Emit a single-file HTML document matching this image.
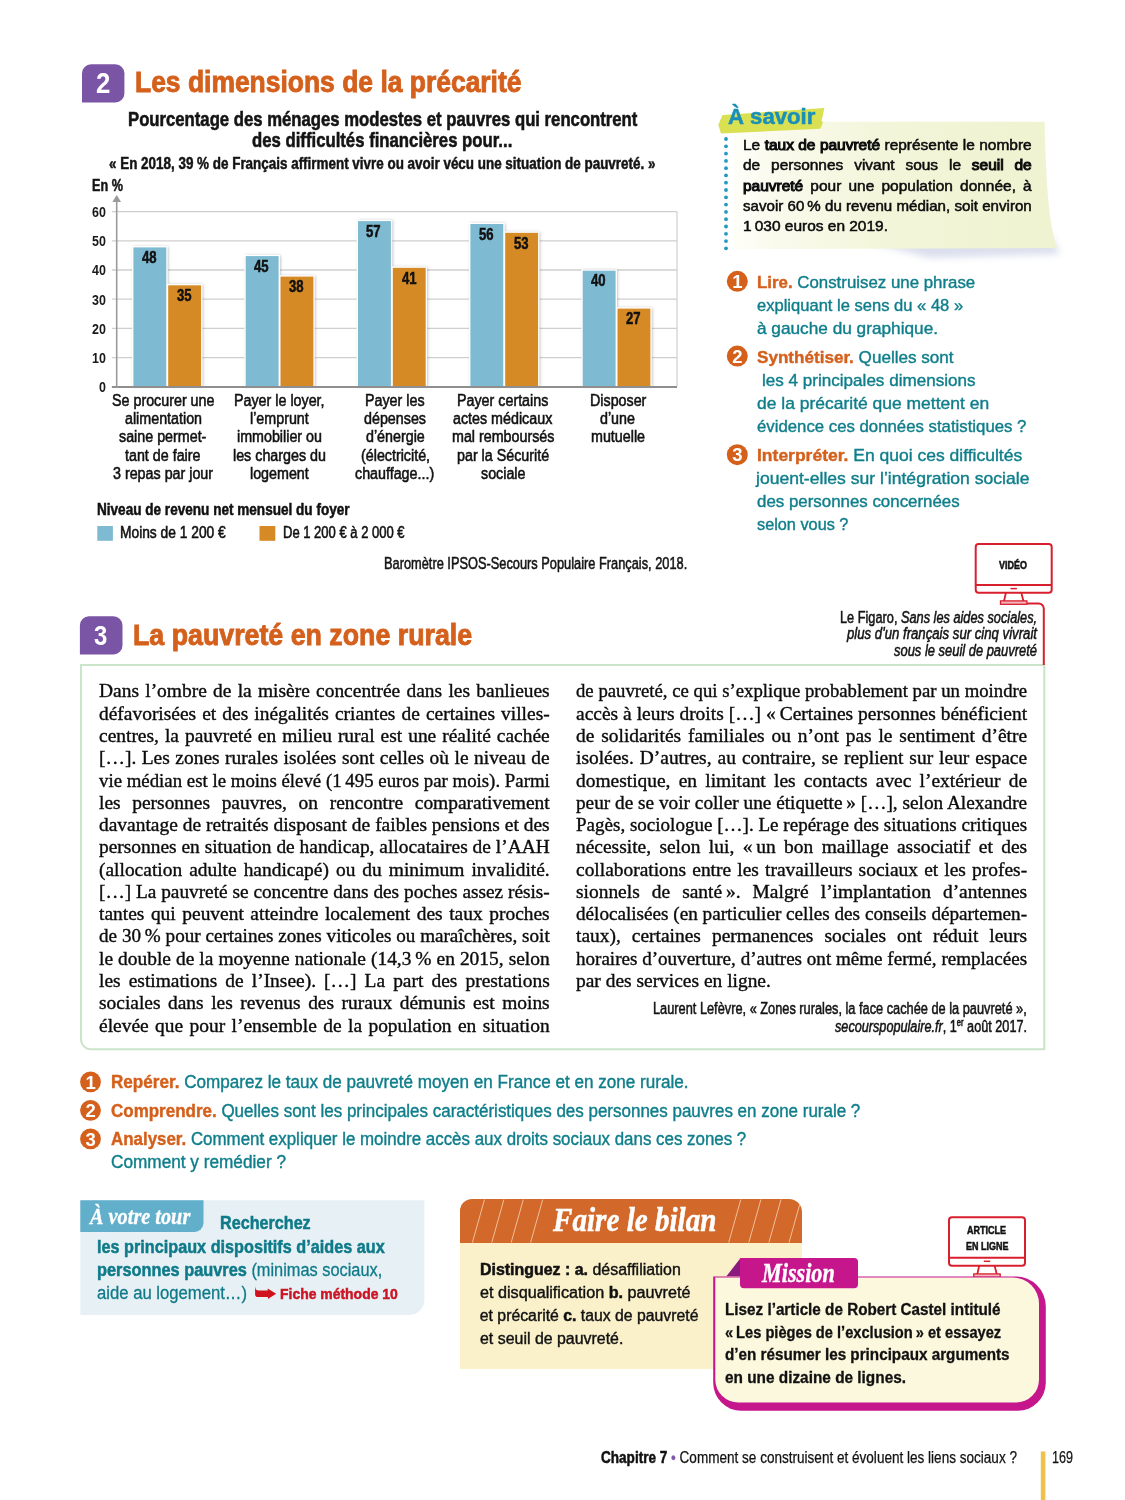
<!DOCTYPE html>
<html lang="fr"><head><meta charset="utf-8"><title>Les dimensions de la précarité</title>
<style>
html,body{margin:0;padding:0}body{width:1125px;height:1500px;position:relative;overflow:hidden;background:#fff}
.t{position:absolute;white-space:nowrap;line-height:1;transform-origin:0 0}
.j{white-space:normal;text-align:justify;text-align-last:justify}
b{font-weight:700}
b.k{-webkit-text-stroke:0.5px}
b.d{font-weight:400;-webkit-text-stroke:1px #0c0c0c}
svg.bg{position:absolute;left:0;top:0}
</style></head>
<body>
<svg class="bg" width="1125" height="1500" viewBox="0 0 1125 1500">
<defs>
<filter id="bs" x="-20%" y="-20%" width="150%" height="140%"><feGaussianBlur stdDeviation="1.6"/></filter>
<filter id="ns" x="-10%" y="-50%" width="120%" height="250%"><feGaussianBlur stdDeviation="3.5"/></filter>
<linearGradient id="ng" x1="0" y1="0" x2="1" y2="0"><stop offset="0" stop-color="#fefef9"/><stop offset="0.15" stop-color="#f9faeb"/><stop offset="0.5" stop-color="#f2f5d8"/><stop offset="1" stop-color="#eff3d0"/></linearGradient>
<clipPath id="hc"><path d="M460 1243V1211a12 12 0 0 1 12-12H790a12 12 0 0 1 12 12V1243Z"/></clipPath>
</defs>
<path d="M82 102.4V73.3a9 9 0 0 1 9 -9H115.4a9 9 0 0 1 9 9V93.4a9 9 0 0 1 -9 9Z" fill="#7b55a5"/>
<path d="M79.9 654.4V625.3a9 9 0 0 1 9 -9H113.5a9 9 0 0 1 9 9V645.4a9 9 0 0 1 -9 9Z" fill="#7b55a5"/>
<rect x="116.7" y="211.7" width="560.3" height="175.0" fill="#fff"/>
<line x1="111.9" y1="211.7" x2="677" y2="211.7" stroke="#cfcfcf" stroke-width="1.3"/>
<line x1="111.9" y1="240.9" x2="677" y2="240.9" stroke="#cfcfcf" stroke-width="1.3"/>
<line x1="111.9" y1="270.0" x2="677" y2="270.0" stroke="#cfcfcf" stroke-width="1.3"/>
<line x1="111.9" y1="299.2" x2="677" y2="299.2" stroke="#cfcfcf" stroke-width="1.3"/>
<line x1="111.9" y1="328.4" x2="677" y2="328.4" stroke="#cfcfcf" stroke-width="1.3"/>
<line x1="111.9" y1="357.6" x2="677" y2="357.6" stroke="#cfcfcf" stroke-width="1.3"/>
<line x1="111.9" y1="386.7" x2="677" y2="386.7" stroke="#cfcfcf" stroke-width="1.3"/>
<line x1="677" y1="211.7" x2="677" y2="386.7" stroke="#d3d3d3" stroke-width="1.3"/>
<rect x="133.5" y="246.7" width="34.6" height="140.0" fill="#666" opacity=".5" filter="url(#bs)"/>
<rect x="168.3" y="284.6" width="34.6" height="102.1" fill="#666" opacity=".5" filter="url(#bs)"/>
<rect x="132.7" y="246.7" width="34.3" height="141.0" fill="#7ebad2" stroke="#fff" stroke-width="1.4"/>
<rect x="167.5" y="284.6" width="34.3" height="103.1" fill="#d68a26" stroke="#fff" stroke-width="1.4"/>
<rect x="245.8" y="255.4" width="34.6" height="131.3" fill="#666" opacity=".5" filter="url(#bs)"/>
<rect x="280.6" y="275.9" width="34.6" height="110.8" fill="#666" opacity=".5" filter="url(#bs)"/>
<rect x="245.0" y="255.4" width="34.3" height="132.3" fill="#7ebad2" stroke="#fff" stroke-width="1.4"/>
<rect x="279.8" y="275.9" width="34.3" height="111.8" fill="#d68a26" stroke="#fff" stroke-width="1.4"/>
<rect x="358.1" y="220.4" width="34.6" height="166.3" fill="#666" opacity=".5" filter="url(#bs)"/>
<rect x="392.9" y="267.1" width="34.6" height="119.6" fill="#666" opacity=".5" filter="url(#bs)"/>
<rect x="357.3" y="220.4" width="34.3" height="167.3" fill="#7ebad2" stroke="#fff" stroke-width="1.4"/>
<rect x="392.1" y="267.1" width="34.3" height="120.6" fill="#d68a26" stroke="#fff" stroke-width="1.4"/>
<rect x="470.5" y="223.3" width="34.6" height="163.4" fill="#666" opacity=".5" filter="url(#bs)"/>
<rect x="505.3" y="232.1" width="34.6" height="154.6" fill="#666" opacity=".5" filter="url(#bs)"/>
<rect x="469.7" y="223.3" width="34.3" height="164.4" fill="#7ebad2" stroke="#fff" stroke-width="1.4"/>
<rect x="504.5" y="232.1" width="34.3" height="155.6" fill="#d68a26" stroke="#fff" stroke-width="1.4"/>
<rect x="582.8" y="270.0" width="34.6" height="116.7" fill="#666" opacity=".5" filter="url(#bs)"/>
<rect x="617.6" y="307.9" width="34.6" height="78.8" fill="#666" opacity=".5" filter="url(#bs)"/>
<rect x="582.0" y="270.0" width="34.3" height="117.7" fill="#7ebad2" stroke="#fff" stroke-width="1.4"/>
<rect x="616.8" y="307.9" width="34.3" height="79.8" fill="#d68a26" stroke="#fff" stroke-width="1.4"/>
<line x1="111.9" y1="387.0" x2="677" y2="387.0" stroke="#8f8f8f" stroke-width="2"/>
<line x1="116.7" y1="199" x2="116.7" y2="387.7" stroke="#9a9a9a" stroke-width="1.6"/>
<path d="M112.3 202L116.7 195L121.10000000000001 202Z" fill="#9a9a9a"/>
<rect x="97.3" y="526" width="15.6" height="14.8" fill="#7ebad2"/>
<rect x="259.5" y="526" width="15.8" height="14.8" fill="#d68a26"/>
<path d="M860 240L1050 234L1060 254L930 258Z" fill="#8f9cc8" opacity=".32" filter="url(#ns)"/>
<path d="M733.5 121.8L1044.6 121.8C1045.5 170 1048 222 1057 248L733.5 249.2Z" fill="url(#ng)"/>
<path d="M718.3 124.7L722.5 115L824.4 108L821.6 121L823 122.3L820.4 128.7L721 133.5Z" fill="#d9e052"/>
<circle cx="726" cy="139.0" r="1.9" fill="#2399c0"/>
<circle cx="726" cy="146.3" r="1.9" fill="#2399c0"/>
<circle cx="726" cy="153.6" r="1.9" fill="#2399c0"/>
<circle cx="726" cy="160.9" r="1.9" fill="#2399c0"/>
<circle cx="726" cy="168.2" r="1.9" fill="#2399c0"/>
<circle cx="726" cy="175.4" r="1.9" fill="#2399c0"/>
<circle cx="726" cy="182.7" r="1.9" fill="#2399c0"/>
<circle cx="726" cy="190.0" r="1.9" fill="#2399c0"/>
<circle cx="726" cy="197.3" r="1.9" fill="#2399c0"/>
<circle cx="726" cy="204.6" r="1.9" fill="#2399c0"/>
<circle cx="726" cy="211.9" r="1.9" fill="#2399c0"/>
<circle cx="726" cy="219.2" r="1.9" fill="#2399c0"/>
<circle cx="726" cy="226.5" r="1.9" fill="#2399c0"/>
<circle cx="726" cy="233.8" r="1.9" fill="#2399c0"/>
<circle cx="726" cy="241.1" r="1.9" fill="#2399c0"/>
<circle cx="726" cy="248.3" r="1.9" fill="#2399c0"/>
<circle cx="737.3" cy="281.3" r="10.5" fill="#d4601c"/>
<circle cx="737.3" cy="356.1" r="10.5" fill="#d4601c"/>
<circle cx="737.3" cy="454.7" r="10.5" fill="#d4601c"/>
<circle cx="90.5" cy="1081.9" r="10.4" fill="#d4601c"/>
<circle cx="90.5" cy="1110.3" r="10.4" fill="#d4601c"/>
<circle cx="90.5" cy="1138.9" r="10.4" fill="#d4601c"/>
<path d="M81 665H1044.3V1049.3H91a10 10 0 0 1-10-10Z" fill="#fff" stroke="#cbe5ca" stroke-width="2.1"/>
<rect x="975.7" y="544" width="76.0" height="48.700000000000045" rx="3" fill="#fff" stroke="#d81f2e" stroke-width="2"/>
<line x1="975.7" y1="585" x2="1051.7" y2="585" stroke="#d81f2e" stroke-width="1.9"/>
<line x1="1010.5" y1="588.6" x2="1016.9000000000001" y2="588.6" stroke="#d81f2e" stroke-width="1.5"/>
<path d="M1005.9000000000001 592.7L1004.0 601.2M1021.3000000000001 592.7L1023.5 601.2" stroke="#d81f2e" stroke-width="1.8" fill="none"/>
<rect x="1000.5" y="600.9000000000001" width="26.4" height="3.4" fill="#f3b6bb" stroke="#d81f2e" stroke-width="1.3"/>
<path d="M1027 603.5H1038.6a5.2 5.2 0 0 1 5.2 5.2V665" stroke="#d81f2e" stroke-width="2" fill="none"/>
<path d="M80.3 1200.3H424.4V1300a15 15 0 0 1-15 15H80.3Z" fill="#e7f1f5"/>
<path d="M80.3 1200.3H203.5V1223a9 9 0 0 1-9 9H80.3Z" fill="#61afcb"/>
<path d="M255.1 1286.5C255.6 1289.5 256.5 1290.5 258.5 1290.5H267.7V1288.4L276.2 1293.7L267.9 1299.1V1297.1H258C256 1297.1 255.1 1296 255.1 1294.5Z" fill="#d0121f"/>
<rect x="460" y="1242" width="342" height="127" fill="#faf1ca"/>
<path d="M460 1243V1211a12 12 0 0 1 12-12H789a13 13 0 0 1 13 13V1243Z" fill="#d2692b"/>
<g clip-path="url(#hc)" stroke="#f3c9a6" stroke-width="1" opacity=".9">
<line x1="472.4" y1="1242.5" x2="484.5" y2="1199.5"/>
<line x1="491.8" y1="1242.5" x2="503.90000000000003" y2="1199.5"/>
<line x1="511.2" y1="1242.5" x2="523.3" y2="1199.5"/>
<line x1="530.6" y1="1242.5" x2="542.7" y2="1199.5"/>
<line x1="728.7" y1="1242.5" x2="740.8000000000001" y2="1199.5"/>
<line x1="748.8" y1="1242.5" x2="760.9" y2="1199.5"/>
<line x1="768.9" y1="1242.5" x2="781.0" y2="1199.5"/>
<line x1="789" y1="1242.5" x2="801.1" y2="1199.5"/>
</g>
<rect x="949" y="1217.3" width="76" height="48.40000000000009" rx="3" fill="#fff" stroke="#d81f2e" stroke-width="2"/>
<line x1="949" y1="1257.7" x2="1025" y2="1257.7" stroke="#d81f2e" stroke-width="1.9"/>
<line x1="983.8" y1="1261.3" x2="990.2" y2="1261.3" stroke="#d81f2e" stroke-width="1.5"/>
<path d="M979.2 1265.7L977.3 1274.2M994.6 1265.7L996.8 1274.2" stroke="#d81f2e" stroke-width="1.8" fill="none"/>
<rect x="973.8" y="1273.9" width="26.4" height="3.4" fill="#f3b6bb" stroke="#d81f2e" stroke-width="1.3"/>
<path d="M713.2 1276.4H1015.8a30 30 0 0 1 30 30V1382.8a28 28 0 0 1-28 28H741.2a28 28 0 0 1-28-28Z" fill="#c5168c"/>
<path d="M715.3 1277.6H1013a26 26 0 0 1 26 26V1379.6a23 23 0 0 1-23 23H738.3a23 23 0 0 1-23-23Z" fill="#fcf8de"/>
<path d="M726.4 1276.3L740.2 1258.6V1276.3Z" fill="#8a1a7e"/>
<path d="M740 1258H854a4 4 0 0 1 4 4V1284.2a4 4 0 0 1-4 4H744a4 4 0 0 1-4-4Z" fill="#c5168c"/>
<rect x="1040.8" y="1451.5" width="4.6" height="49" fill="#efc04e"/>
</svg>
<div class="t" style="left:95.7px;top:68.4px;font-family:'Liberation Sans',sans-serif;font-size:30px;color:#fff;font-weight:700;transform:scaleX(0.8600);">2</div>
<div class="t" style="left:134.5px;top:67.2px;font-family:'Liberation Sans',sans-serif;font-size:29.5px;color:#d4601c;font-weight:700;transform:scaleX(0.8963);-webkit-text-stroke:0.9px #d4601c;">Les dimensions de la précarité</div>
<div class="t" style="left:128.3px;top:109.7px;font-family:'Liberation Sans',sans-serif;font-size:19.5px;color:#141414;font-weight:700;transform:scaleX(0.8562);-webkit-text-stroke:0.55px;">Pourcentage des ménages modestes et pauvres qui rencontrent</div>
<div class="t" style="left:252.0px;top:130.7px;font-family:'Liberation Sans',sans-serif;font-size:19.5px;color:#141414;font-weight:700;transform:scaleX(0.8579);-webkit-text-stroke:0.55px;">des difficultés financières pour...</div>
<div class="t" style="left:109.3px;top:156.3px;font-family:'Liberation Sans',sans-serif;font-size:15.8px;color:#141414;font-weight:700;transform:scaleX(0.8502);-webkit-text-stroke:0.5px;">« En 2018, 39 % de Français affirment vivre ou avoir vécu une situation de pauvreté. »</div>
<div class="t" style="left:91.7px;top:178.0px;font-family:'Liberation Sans',sans-serif;font-size:15.8px;color:#141414;font-weight:700;transform:scaleX(0.8000);-webkit-text-stroke:0.5px;">En %</div>
<div class="t" style="left:91.7px;top:204.0px;font-family:'Liberation Sans',sans-serif;font-size:15px;color:#1a1a1a;font-weight:700;transform:scaleX(0.8300);">60</div>
<div class="t" style="left:91.7px;top:233.2px;font-family:'Liberation Sans',sans-serif;font-size:15px;color:#1a1a1a;font-weight:700;transform:scaleX(0.8300);">50</div>
<div class="t" style="left:91.7px;top:262.3px;font-family:'Liberation Sans',sans-serif;font-size:15px;color:#1a1a1a;font-weight:700;transform:scaleX(0.8300);">40</div>
<div class="t" style="left:91.7px;top:291.5px;font-family:'Liberation Sans',sans-serif;font-size:15px;color:#1a1a1a;font-weight:700;transform:scaleX(0.8300);">30</div>
<div class="t" style="left:91.7px;top:320.7px;font-family:'Liberation Sans',sans-serif;font-size:15px;color:#1a1a1a;font-weight:700;transform:scaleX(0.8300);">20</div>
<div class="t" style="left:91.7px;top:349.9px;font-family:'Liberation Sans',sans-serif;font-size:15px;color:#1a1a1a;font-weight:700;transform:scaleX(0.8300);">10</div>
<div class="t" style="left:98.7px;top:379.0px;font-family:'Liberation Sans',sans-serif;font-size:15px;color:#1a1a1a;font-weight:700;transform:scaleX(0.8300);">0</div>
<div class="t" style="left:141.8px;top:250.1px;font-family:'Liberation Sans',sans-serif;font-size:15.6px;color:#111;font-weight:700;transform:scaleX(0.8400);-webkit-text-stroke:0.5px;">48</div>
<div class="t" style="left:177.0px;top:288.0px;font-family:'Liberation Sans',sans-serif;font-size:15.6px;color:#111;font-weight:700;transform:scaleX(0.8400);-webkit-text-stroke:0.5px;">35</div>
<div class="t" style="left:254.1px;top:258.8px;font-family:'Liberation Sans',sans-serif;font-size:15.6px;color:#111;font-weight:700;transform:scaleX(0.8400);-webkit-text-stroke:0.5px;">45</div>
<div class="t" style="left:289.3px;top:279.3px;font-family:'Liberation Sans',sans-serif;font-size:15.6px;color:#111;font-weight:700;transform:scaleX(0.8400);-webkit-text-stroke:0.5px;">38</div>
<div class="t" style="left:366.4px;top:223.8px;font-family:'Liberation Sans',sans-serif;font-size:15.6px;color:#111;font-weight:700;transform:scaleX(0.8400);-webkit-text-stroke:0.5px;">57</div>
<div class="t" style="left:401.6px;top:270.5px;font-family:'Liberation Sans',sans-serif;font-size:15.6px;color:#111;font-weight:700;transform:scaleX(0.8400);-webkit-text-stroke:0.5px;">41</div>
<div class="t" style="left:478.8px;top:226.7px;font-family:'Liberation Sans',sans-serif;font-size:15.6px;color:#111;font-weight:700;transform:scaleX(0.8400);-webkit-text-stroke:0.5px;">56</div>
<div class="t" style="left:514.0px;top:235.5px;font-family:'Liberation Sans',sans-serif;font-size:15.6px;color:#111;font-weight:700;transform:scaleX(0.8400);-webkit-text-stroke:0.5px;">53</div>
<div class="t" style="left:591.1px;top:273.4px;font-family:'Liberation Sans',sans-serif;font-size:15.6px;color:#111;font-weight:700;transform:scaleX(0.8400);-webkit-text-stroke:0.5px;">40</div>
<div class="t" style="left:626.3px;top:311.3px;font-family:'Liberation Sans',sans-serif;font-size:15.6px;color:#111;font-weight:700;transform:scaleX(0.8400);-webkit-text-stroke:0.5px;">27</div>
<div class="t" style="left:111.8px;top:393.3px;font-family:'Liberation Sans',sans-serif;font-size:16px;color:#111;transform:scaleX(0.8930);-webkit-text-stroke:0.55px;">Se procurer une</div>
<div class="t" style="left:124.5px;top:411.4px;font-family:'Liberation Sans',sans-serif;font-size:16px;color:#111;transform:scaleX(0.8930);-webkit-text-stroke:0.55px;">alimentation</div>
<div class="t" style="left:119.3px;top:429.4px;font-family:'Liberation Sans',sans-serif;font-size:16px;color:#111;transform:scaleX(0.8930);-webkit-text-stroke:0.55px;">saine permet-</div>
<div class="t" style="left:125.3px;top:447.5px;font-family:'Liberation Sans',sans-serif;font-size:16px;color:#111;transform:scaleX(0.8930);-webkit-text-stroke:0.55px;">tant de faire</div>
<div class="t" style="left:113.0px;top:465.5px;font-family:'Liberation Sans',sans-serif;font-size:16px;color:#111;transform:scaleX(0.8930);-webkit-text-stroke:0.55px;">3 repas par jour</div>
<div class="t" style="left:234.0px;top:393.3px;font-family:'Liberation Sans',sans-serif;font-size:16px;color:#111;transform:scaleX(0.8930);-webkit-text-stroke:0.55px;">Payer le loyer,</div>
<div class="t" style="left:249.9px;top:411.4px;font-family:'Liberation Sans',sans-serif;font-size:16px;color:#111;transform:scaleX(0.8930);-webkit-text-stroke:0.55px;">l’emprunt</div>
<div class="t" style="left:236.8px;top:429.4px;font-family:'Liberation Sans',sans-serif;font-size:16px;color:#111;transform:scaleX(0.8930);-webkit-text-stroke:0.55px;">immobilier ou</div>
<div class="t" style="left:232.8px;top:447.5px;font-family:'Liberation Sans',sans-serif;font-size:16px;color:#111;transform:scaleX(0.8930);-webkit-text-stroke:0.55px;">les charges du</div>
<div class="t" style="left:249.9px;top:465.5px;font-family:'Liberation Sans',sans-serif;font-size:16px;color:#111;transform:scaleX(0.8930);-webkit-text-stroke:0.55px;">logement</div>
<div class="t" style="left:365.2px;top:393.3px;font-family:'Liberation Sans',sans-serif;font-size:16px;color:#111;transform:scaleX(0.8930);-webkit-text-stroke:0.55px;">Payer les</div>
<div class="t" style="left:364.0px;top:411.4px;font-family:'Liberation Sans',sans-serif;font-size:16px;color:#111;transform:scaleX(0.8930);-webkit-text-stroke:0.55px;">dépenses</div>
<div class="t" style="left:365.6px;top:429.4px;font-family:'Liberation Sans',sans-serif;font-size:16px;color:#111;transform:scaleX(0.8930);-webkit-text-stroke:0.55px;">d’énergie</div>
<div class="t" style="left:360.5px;top:447.5px;font-family:'Liberation Sans',sans-serif;font-size:16px;color:#111;transform:scaleX(0.8930);-webkit-text-stroke:0.55px;">(électricité,</div>
<div class="t" style="left:355.4px;top:465.5px;font-family:'Liberation Sans',sans-serif;font-size:16px;color:#111;transform:scaleX(0.8930);-webkit-text-stroke:0.55px;">chauffage...)</div>
<div class="t" style="left:457.1px;top:393.3px;font-family:'Liberation Sans',sans-serif;font-size:16px;color:#111;transform:scaleX(0.8930);-webkit-text-stroke:0.55px;">Payer certains</div>
<div class="t" style="left:453.2px;top:411.4px;font-family:'Liberation Sans',sans-serif;font-size:16px;color:#111;transform:scaleX(0.8930);-webkit-text-stroke:0.55px;">actes médicaux</div>
<div class="t" style="left:451.6px;top:429.4px;font-family:'Liberation Sans',sans-serif;font-size:16px;color:#111;transform:scaleX(0.8930);-webkit-text-stroke:0.55px;">mal remboursés</div>
<div class="t" style="left:456.7px;top:447.5px;font-family:'Liberation Sans',sans-serif;font-size:16px;color:#111;transform:scaleX(0.8930);-webkit-text-stroke:0.55px;">par la Sécurité</div>
<div class="t" style="left:480.6px;top:465.5px;font-family:'Liberation Sans',sans-serif;font-size:16px;color:#111;transform:scaleX(0.8930);-webkit-text-stroke:0.55px;">sociale</div>
<div class="t" style="left:589.6px;top:393.3px;font-family:'Liberation Sans',sans-serif;font-size:16px;color:#111;transform:scaleX(0.8930);-webkit-text-stroke:0.55px;">Disposer</div>
<div class="t" style="left:600.3px;top:411.4px;font-family:'Liberation Sans',sans-serif;font-size:16px;color:#111;transform:scaleX(0.8930);-webkit-text-stroke:0.55px;">d’une</div>
<div class="t" style="left:590.8px;top:429.4px;font-family:'Liberation Sans',sans-serif;font-size:16px;color:#111;transform:scaleX(0.8930);-webkit-text-stroke:0.55px;">mutuelle</div>
<div class="t" style="left:96.7px;top:501.8px;font-family:'Liberation Sans',sans-serif;font-size:15.8px;color:#111;font-weight:700;transform:scaleX(0.8589);-webkit-text-stroke:0.5px;">Niveau de revenu net mensuel du foyer</div>
<div class="t" style="left:120.3px;top:525.1px;font-family:'Liberation Sans',sans-serif;font-size:15.8px;color:#111;transform:scaleX(0.8721);-webkit-text-stroke:0.55px;">Moins de 1 200 €</div>
<div class="t" style="left:282.7px;top:525.1px;font-family:'Liberation Sans',sans-serif;font-size:15.8px;color:#111;transform:scaleX(0.8241);-webkit-text-stroke:0.55px;">De 1 200 € à 2 000 €</div>
<div class="t" style="left:384.0px;top:556.0px;font-family:'Liberation Sans',sans-serif;font-size:16.6px;color:#141414;transform:scaleX(0.7719);-webkit-text-stroke:0.55px;">Baromètre IPSOS-Secours Populaire Français, 2018.</div>
<div class="t" style="left:727.7px;top:105.5px;font-family:'Liberation Sans',sans-serif;font-size:22px;color:#1a8fb8;font-weight:700;transform:scaleX(1.0054);-webkit-text-stroke:0.5px #1a8fb8;">À savoir</div>
<div class="t j" style="left:743.3px;top:138.0px;width:264.9px;font-family:'Liberation Sans',sans-serif;font-size:14.2px;color:#0c0c0c;transform:scaleX(1.0900);-webkit-text-stroke:0.5px #0c0c0c;">Le <b class="d">taux de pauvreté</b> représente le nombre</div>
<div class="t j" style="left:743.3px;top:158.3px;width:264.9px;font-family:'Liberation Sans',sans-serif;font-size:14.2px;color:#0c0c0c;transform:scaleX(1.0900);-webkit-text-stroke:0.5px #0c0c0c;">de personnes vivant sous le <b class="d">seuil de</b></div>
<div class="t j" style="left:743.3px;top:178.6px;width:264.9px;font-family:'Liberation Sans',sans-serif;font-size:14.2px;color:#0c0c0c;transform:scaleX(1.0900);-webkit-text-stroke:0.5px #0c0c0c;"><b class="d">pauvreté</b> pour une population donnée, à</div>
<div class="t j" style="left:743.3px;top:199.0px;width:271.4px;font-family:'Liberation Sans',sans-serif;font-size:14.2px;color:#0c0c0c;transform:scaleX(1.0639);-webkit-text-stroke:0.5px #0c0c0c;">savoir 60 % du revenu médian, soit environ</div>
<div class="t" style="left:743.3px;top:219.3px;font-family:'Liberation Sans',sans-serif;font-size:14.2px;color:#0c0c0c;transform:scaleX(1.0900);-webkit-text-stroke:0.5px #0c0c0c;">1 030 euros en 2019.</div>
<div class="t" style="left:757.4px;top:274.0px;font-family:'Liberation Sans',sans-serif;font-size:17px;color:#0f7e8b;transform:scaleX(0.9910);-webkit-text-stroke:0.4px;"><b style="color:#d4601c">Lire.</b> Construisez une phrase</div>
<div class="t" style="left:757.4px;top:297.2px;font-family:'Liberation Sans',sans-serif;font-size:17px;color:#0f7e8b;transform:scaleX(0.9735);-webkit-text-stroke:0.4px;">expliquant le sens du « 48 »</div>
<div class="t" style="left:757.4px;top:320.4px;font-family:'Liberation Sans',sans-serif;font-size:17px;color:#0f7e8b;transform:scaleX(1.0131);-webkit-text-stroke:0.4px;">à gauche du graphique.</div>
<div class="t" style="left:757.4px;top:348.6px;font-family:'Liberation Sans',sans-serif;font-size:17px;color:#0f7e8b;transform:scaleX(1.0051);-webkit-text-stroke:0.4px;"><b style="color:#d4601c">Synthétiser.</b> Quelles sont</div>
<div class="t" style="left:761.8px;top:371.8px;font-family:'Liberation Sans',sans-serif;font-size:17px;color:#0f7e8b;transform:scaleX(1.0042);-webkit-text-stroke:0.4px;">les 4 principales dimensions</div>
<div class="t" style="left:757.4px;top:395.0px;font-family:'Liberation Sans',sans-serif;font-size:17px;color:#0f7e8b;transform:scaleX(1.0276);-webkit-text-stroke:0.4px;">de la précarité que mettent en</div>
<div class="t" style="left:757.4px;top:418.2px;font-family:'Liberation Sans',sans-serif;font-size:17px;color:#0f7e8b;transform:scaleX(0.9864);-webkit-text-stroke:0.4px;">évidence ces données statistiques ?</div>
<div class="t" style="left:757.4px;top:446.6px;font-family:'Liberation Sans',sans-serif;font-size:17px;color:#0f7e8b;transform:scaleX(1.0293);-webkit-text-stroke:0.4px;"><b style="color:#d4601c">Interpréter.</b> En quoi ces difficultés</div>
<div class="t" style="left:756.0px;top:469.8px;font-family:'Liberation Sans',sans-serif;font-size:17px;color:#0f7e8b;transform:scaleX(1.0333);-webkit-text-stroke:0.4px;">jouent-elles sur l’intégration sociale</div>
<div class="t" style="left:757.4px;top:493.0px;font-family:'Liberation Sans',sans-serif;font-size:17px;color:#0f7e8b;transform:scaleX(0.9929);-webkit-text-stroke:0.4px;">des personnes concernées</div>
<div class="t" style="left:757.4px;top:516.2px;font-family:'Liberation Sans',sans-serif;font-size:17px;color:#0f7e8b;transform:scaleX(0.9575);-webkit-text-stroke:0.4px;">selon vous ?</div>
<div class="t" style="left:732.2px;top:272.9px;font-family:'Liberation Sans',sans-serif;font-size:18.5px;color:#fff;font-weight:700;">1</div>
<div class="t" style="left:732.2px;top:347.7px;font-family:'Liberation Sans',sans-serif;font-size:18.5px;color:#fff;font-weight:700;">2</div>
<div class="t" style="left:732.2px;top:446.3px;font-family:'Liberation Sans',sans-serif;font-size:18.5px;color:#fff;font-weight:700;">3</div>
<div class="t" style="left:999.4px;top:559.6px;font-family:'Liberation Sans',sans-serif;font-size:11.2px;color:#111;font-weight:700;transform:scaleX(0.8000);-webkit-text-stroke:0.55px;">VIDÉO</div>
<div class="t" style="left:840.2px;top:609.8px;font-family:'Liberation Sans',sans-serif;font-size:16.8px;color:#141414;transform:scaleX(0.7600);-webkit-text-stroke:0.55px;">Le Figaro, <i>Sans les aides sociales,</i></div>
<div class="t" style="left:847.3px;top:625.9px;font-family:'Liberation Sans',sans-serif;font-size:16.8px;color:#141414;transform:scaleX(0.7852);-webkit-text-stroke:0.55px;"><i>plus d'un français sur cinq vivrait</i></div>
<div class="t" style="left:894.3px;top:642.6px;font-family:'Liberation Sans',sans-serif;font-size:16.8px;color:#141414;transform:scaleX(0.7702);-webkit-text-stroke:0.55px;"><i>sous le seuil de pauvreté</i></div>
<div class="t" style="left:94.2px;top:621.2px;font-family:'Liberation Sans',sans-serif;font-size:28.5px;color:#fff;font-weight:700;transform:scaleX(0.8400);">3</div>
<div class="t" style="left:132.5px;top:620.0px;font-family:'Liberation Sans',sans-serif;font-size:29.5px;color:#d4601c;font-weight:700;transform:scaleX(0.9074);-webkit-text-stroke:0.9px #d4601c;">La pauvreté en zone rurale</div>
<div class="t j" style="left:98.7px;top:682.4px;width:426.4px;font-family:'Liberation Serif',serif;font-size:18.4px;color:#0c0c0c;transform:scaleX(1.0570);-webkit-text-stroke:0.36px #0c0c0c;">Dans l’ombre de la misère concentrée dans les banlieues</div>
<div class="t j" style="left:98.7px;top:704.7px;width:426.4px;font-family:'Liberation Serif',serif;font-size:18.4px;color:#0c0c0c;transform:scaleX(1.0570);-webkit-text-stroke:0.36px #0c0c0c;">défavorisées et des inégalités criantes de certaines villes-</div>
<div class="t j" style="left:98.7px;top:726.9px;width:426.4px;font-family:'Liberation Serif',serif;font-size:18.4px;color:#0c0c0c;transform:scaleX(1.0570);-webkit-text-stroke:0.36px #0c0c0c;">centres, la pauvreté en milieu rural est une réalité cachée</div>
<div class="t j" style="left:98.7px;top:749.2px;width:426.4px;font-family:'Liberation Serif',serif;font-size:18.4px;color:#0c0c0c;transform:scaleX(1.0570);-webkit-text-stroke:0.36px #0c0c0c;">[…]. Les zones rurales isolées sont celles où le niveau de</div>
<div class="t j" style="left:98.7px;top:771.5px;width:440.8px;font-family:'Liberation Serif',serif;font-size:18.4px;color:#0c0c0c;transform:scaleX(1.0226);-webkit-text-stroke:0.36px #0c0c0c;">vie médian est le moins élevé (1 495 euros par mois). Parmi</div>
<div class="t j" style="left:98.7px;top:793.8px;width:426.4px;font-family:'Liberation Serif',serif;font-size:18.4px;color:#0c0c0c;transform:scaleX(1.0570);-webkit-text-stroke:0.36px #0c0c0c;">les personnes pauvres, on rencontre comparativement</div>
<div class="t j" style="left:98.7px;top:816.0px;width:426.4px;font-family:'Liberation Serif',serif;font-size:18.4px;color:#0c0c0c;transform:scaleX(1.0570);-webkit-text-stroke:0.36px #0c0c0c;">davantage de retraités disposant de faibles pensions et des</div>
<div class="t j" style="left:98.7px;top:838.3px;width:427.3px;font-family:'Liberation Serif',serif;font-size:18.4px;color:#0c0c0c;transform:scaleX(1.0547);-webkit-text-stroke:0.36px #0c0c0c;">personnes en situation de handicap, allocataires de l’AAH</div>
<div class="t j" style="left:98.7px;top:860.6px;width:426.4px;font-family:'Liberation Serif',serif;font-size:18.4px;color:#0c0c0c;transform:scaleX(1.0570);-webkit-text-stroke:0.36px #0c0c0c;">(allocation adulte handicapé) ou du minimum invalidité.</div>
<div class="t j" style="left:98.7px;top:882.8px;width:429.9px;font-family:'Liberation Serif',serif;font-size:18.4px;color:#0c0c0c;transform:scaleX(1.0485);-webkit-text-stroke:0.36px #0c0c0c;">[…] La pauvreté se concentre dans des poches assez résis-</div>
<div class="t j" style="left:98.7px;top:905.1px;width:426.4px;font-family:'Liberation Serif',serif;font-size:18.4px;color:#0c0c0c;transform:scaleX(1.0570);-webkit-text-stroke:0.36px #0c0c0c;">tantes qui peuvent atteindre localement des taux proches</div>
<div class="t j" style="left:98.7px;top:927.4px;width:433.6px;font-family:'Liberation Serif',serif;font-size:18.4px;color:#0c0c0c;transform:scaleX(1.0395);-webkit-text-stroke:0.36px #0c0c0c;">de 30 % pour certaines zones viticoles ou maraîchères, soit</div>
<div class="t j" style="left:98.7px;top:949.6px;width:426.4px;font-family:'Liberation Serif',serif;font-size:18.4px;color:#0c0c0c;transform:scaleX(1.0570);-webkit-text-stroke:0.36px #0c0c0c;">le double de la moyenne nationale (14,3 % en 2015, selon</div>
<div class="t j" style="left:98.7px;top:971.9px;width:426.4px;font-family:'Liberation Serif',serif;font-size:18.4px;color:#0c0c0c;transform:scaleX(1.0570);-webkit-text-stroke:0.36px #0c0c0c;">les estimations de l’Insee). […] La part des prestations</div>
<div class="t j" style="left:98.7px;top:994.2px;width:426.4px;font-family:'Liberation Serif',serif;font-size:18.4px;color:#0c0c0c;transform:scaleX(1.0570);-webkit-text-stroke:0.36px #0c0c0c;">sociales dans les revenus des ruraux démunis est moins</div>
<div class="t j" style="left:98.7px;top:1016.5px;width:426.4px;font-family:'Liberation Serif',serif;font-size:18.4px;color:#0c0c0c;transform:scaleX(1.0570);-webkit-text-stroke:0.36px #0c0c0c;">élevée que pour l’ensemble de la population en situation</div>
<div class="t j" style="left:576.0px;top:682.4px;width:443.1px;font-family:'Liberation Serif',serif;font-size:18.4px;color:#0c0c0c;transform:scaleX(1.0180);-webkit-text-stroke:0.36px #0c0c0c;">de pauvreté, ce qui s’explique probablement par un moindre</div>
<div class="t j" style="left:576.0px;top:704.7px;width:426.8px;font-family:'Liberation Serif',serif;font-size:18.4px;color:#0c0c0c;transform:scaleX(1.0570);-webkit-text-stroke:0.36px #0c0c0c;">accès à leurs droits […] « Certaines personnes bénéficient</div>
<div class="t j" style="left:576.0px;top:726.9px;width:426.8px;font-family:'Liberation Serif',serif;font-size:18.4px;color:#0c0c0c;transform:scaleX(1.0570);-webkit-text-stroke:0.36px #0c0c0c;">de solidarités familiales ou n’ont pas le sentiment d’être</div>
<div class="t j" style="left:576.0px;top:749.2px;width:426.8px;font-family:'Liberation Serif',serif;font-size:18.4px;color:#0c0c0c;transform:scaleX(1.0570);-webkit-text-stroke:0.36px #0c0c0c;">isolées. D’autres, au contraire, se replient sur leur espace</div>
<div class="t j" style="left:576.0px;top:771.5px;width:426.8px;font-family:'Liberation Serif',serif;font-size:18.4px;color:#0c0c0c;transform:scaleX(1.0570);-webkit-text-stroke:0.36px #0c0c0c;">domestique, en limitant les contacts avec l’extérieur de</div>
<div class="t j" style="left:576.0px;top:793.8px;width:431.0px;font-family:'Liberation Serif',serif;font-size:18.4px;color:#0c0c0c;transform:scaleX(1.0467);-webkit-text-stroke:0.36px #0c0c0c;">peur de se voir coller une étiquette » […], selon Alexandre</div>
<div class="t j" style="left:576.0px;top:816.0px;width:436.0px;font-family:'Liberation Serif',serif;font-size:18.4px;color:#0c0c0c;transform:scaleX(1.0346);-webkit-text-stroke:0.36px #0c0c0c;">Pagès, sociologue […]. Le repérage des situations critiques</div>
<div class="t j" style="left:576.0px;top:838.3px;width:426.8px;font-family:'Liberation Serif',serif;font-size:18.4px;color:#0c0c0c;transform:scaleX(1.0570);-webkit-text-stroke:0.36px #0c0c0c;">nécessite, selon lui, « un bon maillage associatif et des</div>
<div class="t j" style="left:576.0px;top:860.6px;width:426.8px;font-family:'Liberation Serif',serif;font-size:18.4px;color:#0c0c0c;transform:scaleX(1.0570);-webkit-text-stroke:0.36px #0c0c0c;">collaborations entre les travailleurs sociaux et les profes-</div>
<div class="t j" style="left:576.0px;top:882.8px;width:426.8px;font-family:'Liberation Serif',serif;font-size:18.4px;color:#0c0c0c;transform:scaleX(1.0570);-webkit-text-stroke:0.36px #0c0c0c;">sionnels de santé ». Malgré l’implantation d’antennes</div>
<div class="t j" style="left:576.0px;top:905.1px;width:433.4px;font-family:'Liberation Serif',serif;font-size:18.4px;color:#0c0c0c;transform:scaleX(1.0408);-webkit-text-stroke:0.36px #0c0c0c;">délocalisées (en particulier celles des conseils départemen-</div>
<div class="t j" style="left:576.0px;top:927.4px;width:426.8px;font-family:'Liberation Serif',serif;font-size:18.4px;color:#0c0c0c;transform:scaleX(1.0570);-webkit-text-stroke:0.36px #0c0c0c;">taux), certaines permanences sociales ont réduit leurs</div>
<div class="t j" style="left:576.0px;top:949.6px;width:435.4px;font-family:'Liberation Serif',serif;font-size:18.4px;color:#0c0c0c;transform:scaleX(1.0360);-webkit-text-stroke:0.36px #0c0c0c;">horaires d’ouverture, d’autres ont même fermé, remplacées</div>
<div class="t" style="left:576.0px;top:971.9px;font-family:'Liberation Serif',serif;font-size:18.4px;color:#0c0c0c;transform:scaleX(1.0570);-webkit-text-stroke:0.36px #0c0c0c;">par des services en ligne.</div>
<div class="t" style="left:652.8px;top:1001.2px;font-family:'Liberation Sans',sans-serif;font-size:16.8px;color:#141414;transform:scaleX(0.7616);-webkit-text-stroke:0.55px;">Laurent Lefèvre, « Zones rurales, la face cachée de la pauvreté »,</div>
<div class="t" style="left:834.5px;top:1018.6px;font-family:'Liberation Sans',sans-serif;font-size:16.8px;color:#141414;transform:scaleX(0.7551);-webkit-text-stroke:0.55px;"><i>secourspopulaire.fr</i>, 1<span style="font-size:10px;position:relative;top:-5.5px">er</span> août 2017.</div>
<div class="t" style="left:111.0px;top:1074.3px;font-family:'Liberation Sans',sans-serif;font-size:17.5px;color:#0f7e8b;transform:scaleX(0.9764);-webkit-text-stroke:0.4px;"><b style="color:#d4601c">Repérer.</b> Comparez le taux de pauvreté moyen en France et en zone rurale.</div>
<div class="t" style="left:111.0px;top:1102.7px;font-family:'Liberation Sans',sans-serif;font-size:17.5px;color:#0f7e8b;transform:scaleX(0.9702);-webkit-text-stroke:0.4px;"><b style="color:#d4601c">Comprendre.</b> Quelles sont les principales caractéristiques des personnes pauvres en zone rurale ?</div>
<div class="t" style="left:111.0px;top:1131.0px;font-family:'Liberation Sans',sans-serif;font-size:17.5px;color:#0f7e8b;transform:scaleX(0.9661);-webkit-text-stroke:0.4px;"><b style="color:#d4601c">Analyser.</b> Comment expliquer le moindre accès aux droits sociaux dans ces zones ?</div>
<div class="t" style="left:111.0px;top:1154.3px;font-family:'Liberation Sans',sans-serif;font-size:17.5px;color:#0f7e8b;transform:scaleX(0.9832);-webkit-text-stroke:0.4px;">Comment y remédier ?</div>
<div class="t" style="left:85.4px;top:1073.5px;font-family:'Liberation Sans',sans-serif;font-size:18.5px;color:#fff;font-weight:700;">1</div>
<div class="t" style="left:85.4px;top:1101.9px;font-family:'Liberation Sans',sans-serif;font-size:18.5px;color:#fff;font-weight:700;">2</div>
<div class="t" style="left:85.4px;top:1130.5px;font-family:'Liberation Sans',sans-serif;font-size:18.5px;color:#fff;font-weight:700;">3</div>
<div class="t" style="left:90.2px;top:1206.4px;font-family:'Liberation Serif',serif;font-size:22.5px;color:#fff;font-weight:700;font-style:italic;transform:scaleX(0.9014);-webkit-text-stroke:0.3px #fff;">À votre tour</div>
<div class="t" style="left:220.0px;top:1214.3px;font-family:'Liberation Sans',sans-serif;font-size:18px;color:#0f7a89;font-weight:700;transform:scaleX(0.8975);-webkit-text-stroke:0.5px;">Recherchez</div>
<div class="t" style="left:96.6px;top:1237.8px;font-family:'Liberation Sans',sans-serif;font-size:18px;color:#0f7a89;font-weight:700;transform:scaleX(0.9016);-webkit-text-stroke:0.5px;">les principaux dispositifs d’aides aux</div>
<div class="t" style="left:96.6px;top:1261.4px;font-family:'Liberation Sans',sans-serif;font-size:18px;color:#0f7a89;transform:scaleX(0.9079);-webkit-text-stroke:0.3px;"><b class="k">personnes pauvres</b> (minimas sociaux,</div>
<div class="t" style="left:96.6px;top:1284.4px;font-family:'Liberation Sans',sans-serif;font-size:18px;color:#0f7a89;transform:scaleX(0.9259);-webkit-text-stroke:0.3px;">aide au logement…)</div>
<div class="t" style="left:280.2px;top:1286.0px;font-family:'Liberation Sans',sans-serif;font-size:15px;color:#cc1424;font-weight:700;transform:scaleX(0.9297);-webkit-text-stroke:0.5px #cc1424;">Fiche méthode 10</div>
<div class="t" style="left:553.0px;top:1204.3px;font-family:'Liberation Serif',serif;font-size:33px;color:#fff;font-weight:700;font-style:italic;transform:scaleX(0.8829);-webkit-text-stroke:0.5px #fff;">Faire le bilan</div>
<div class="t" style="left:479.8px;top:1262.3px;font-family:'Liberation Sans',sans-serif;font-size:15.8px;color:#111;transform:scaleX(1.0090);-webkit-text-stroke:0.4px;"><b class="k">Distinguez : a.</b> désaffiliation</div>
<div class="t" style="left:479.8px;top:1285.1px;font-family:'Liberation Sans',sans-serif;font-size:15.8px;color:#111;transform:scaleX(1.0243);-webkit-text-stroke:0.4px;">et disqualification <b class="k">b.</b> pauvreté</div>
<div class="t" style="left:479.8px;top:1307.9px;font-family:'Liberation Sans',sans-serif;font-size:15.8px;color:#111;-webkit-text-stroke:0.4px;">et précarité <b class="k">c.</b> taux de pauvreté</div>
<div class="t" style="left:479.8px;top:1330.7px;font-family:'Liberation Sans',sans-serif;font-size:15.8px;color:#111;transform:scaleX(1.0080);-webkit-text-stroke:0.4px;">et seuil de pauvreté.</div>
<div class="t" style="left:762.0px;top:1260.3px;font-family:'Liberation Serif',serif;font-size:26.5px;color:#fff;font-weight:700;font-style:italic;transform:scaleX(0.8377);-webkit-text-stroke:0.4px #fff;">Mission</div>
<div class="t" style="left:724.6px;top:1302.2px;font-family:'Liberation Sans',sans-serif;font-size:15.8px;color:#111;font-weight:700;transform:scaleX(0.9660);-webkit-text-stroke:0.3px;">Lisez l’article de Robert Castel intitulé</div>
<div class="t" style="left:724.6px;top:1324.8px;font-family:'Liberation Sans',sans-serif;font-size:15.8px;color:#111;font-weight:700;transform:scaleX(0.9273);-webkit-text-stroke:0.3px;">« Les pièges de l’exclusion » et essayez</div>
<div class="t" style="left:724.6px;top:1347.4px;font-family:'Liberation Sans',sans-serif;font-size:15.8px;color:#111;font-weight:700;transform:scaleX(0.9648);-webkit-text-stroke:0.3px;">d’en résumer les principaux arguments</div>
<div class="t" style="left:724.6px;top:1370.0px;font-family:'Liberation Sans',sans-serif;font-size:15.8px;color:#111;font-weight:700;transform:scaleX(0.9726);-webkit-text-stroke:0.3px;">en une dizaine de lignes.</div>
<div class="t" style="left:967.4px;top:1225.3px;font-family:'Liberation Sans',sans-serif;font-size:11.5px;color:#111;font-weight:700;transform:scaleX(0.7800);-webkit-text-stroke:0.55px;">ARTICLE</div>
<div class="t" style="left:965.6px;top:1241.0px;font-family:'Liberation Sans',sans-serif;font-size:11.5px;color:#111;font-weight:700;transform:scaleX(0.7800);-webkit-text-stroke:0.55px;">EN LIGNE</div>
<div class="t" style="left:601.4px;top:1449.8px;font-family:'Liberation Sans',sans-serif;font-size:16px;color:#111;transform:scaleX(0.8469);-webkit-text-stroke:0.25px;"><b class="k">Chapitre 7</b> <span style="color:#7d56a7">•</span> Comment se construisent et évoluent les liens sociaux ?</div>
<div class="t" style="left:1052.0px;top:1448.8px;font-family:'Liberation Sans',sans-serif;font-size:16.5px;color:#111;transform:scaleX(0.7628);-webkit-text-stroke:0.25px;">169</div>
</body></html>
